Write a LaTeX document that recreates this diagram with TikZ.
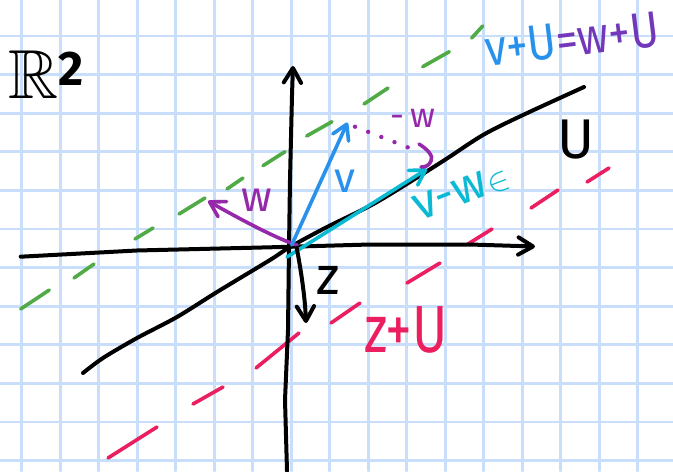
\documentclass[tikz,border=0pt]{standalone}
\usepackage{amssymb}
\usepackage{graphicx}
\usepackage{fontspec}
\setmainfont{Fira Sans}
\usetikzlibrary{arrows.meta}
\definecolor{gridblue}{RGB}{200,222,250}
\definecolor{vblue}{RGB}{40,145,235}
\definecolor{vwcyan}{RGB}{10,185,210}
\definecolor{wpurple}{RGB}{150,40,170}
\definecolor{eqpurple}{RGB}{115,55,185}
\definecolor{cosetgreen}{RGB}{80,170,70}
\definecolor{cosetred}{RGB}{235,30,95}
\begin{document}
\begin{tikzpicture}[x=0.75pt,y=-0.75pt,line cap=round,line join=round,
  gridline/.style={gridblue,line width=2pt},
  pen/.style={line width=3pt},
  cpen/.style={line width=2.7pt},
  barb/.style={-{Straight Barb[length=11pt,width=13pt,round]}},
  greendash/.style={cosetgreen,line width=2.7pt},
  reddash/.style={cosetred,line width=2.7pt},
  lab/.style={inner sep=0pt,font=\fontsize{#1}{#1}\selectfont}]
\useasboundingbox (0,0) rectangle (673,471);
\fill[white] (0,0) rectangle (673,471);
% graph paper
\foreach \i in {0,...,16} \draw[gridline] ({21.7+38.5*\i},0) -- ({21.7+38.5*\i},471);
\foreach \j in {0,...,11} \draw[gridline] (0,{36+38.6*\j}) -- (673,{36+38.6*\j});
% cosets (dashed)
\foreach \a/\b/\c/\d in {20.7/309/49.3/290,74/278/94/264,135/239/153/228,179/214/205/198,227/189/243/178,263/165.7/285/151.7,306.7/136/332/121.7,364/104/388/88,422.7/66.7/449.3/51.7,471.7/38/482.7/26}
  \draw[greendash] (\a,\b) -- (\c,\d);
\foreach \a/\b/\c/\d in {108/458/157/427,193/404/223/387,256/368/299/333,331/323/360/303,407/283/440/263,468/244/492/229,531/208/558/190,587/182/609/168}
  \draw[reddash] (\a,\b) -- (\c,\d);
% coordinates
\coordinate (xl) at (20.7,256.7);
\coordinate (xr) at (535,246.5);
\coordinate (yb) at (287,471);
\coordinate (yt) at (293,66);
\coordinate (O) at (291.7,245);
\coordinate (vtip) at (347.5,122.5);
\coordinate (wtail) at (297,245);
\coordinate (wtip) at (208,201);
\coordinate (vwtail) at (287,257);
\coordinate (vwtip) at (427,169);
\coordinate (ztail) at (296.7,248);
\coordinate (ztip) at (306,323);
\coordinate (d1) at (355,126.7);
\coordinate (d2) at (407.7,147.3);
% axes
\draw[pen,barb] (xl) -- (136.7,250.5) -- (270,247.3) -- (370,244.5) -- (470,244.5) -- (xr);
\draw[pen,barb] (yb) -- (285,400) -- (288,330) -- (289,247) -- (290,180) -- (292,95) -- (yt);
% subspace U
\draw[pen] plot[smooth,tension=0.5] coordinates {(83,373) (103,358) (137,338) (177,317) (217,292) (270,260) (290,247) (327,227) (377,202) (440,163) (483,135) (523,115) (584,87)};
% vectors
\draw[cpen,wpurple,barb] (wtail) .. controls (280,240) and (245,222) .. (wtip);
\draw[cpen,vblue,barb] (O) -- (vtip);
\draw[cpen,vwcyan,barb] (vwtail) -- (vwtip);
\draw[pen,barb] (ztail) .. controls (300,265) and (305,295) .. (ztip);
% -w dotted
\draw[wpurple,line width=3.3pt,dash pattern=on 0pt off 10.6pt] (d1) -- (d2);
\draw[cpen,wpurple] (419,144) .. controls (427,149) and (434,156) .. (431,161) .. controls (429,166) and (425,167) .. (421,167);
% labels
\node[lab=52,anchor=base west] (R2) at (8,98) {$\mathbb{R}^{\mathbf{2}}$};
\node[lab=32,text=vblue] (vlab) at (345,181) {v};
\node[lab=32,text=wpurple] (wlab) at (257,200) {w};
\node[lab=26,text=wpurple] (mwlab) at (413,118) {-\,w};
\node[lab=42] (Ulab) at (576,140) {U};
\node[lab=38,anchor=base west,rotate=7] (eqlab) at (487,67) {\scalebox{0.86}[1]{\textcolor{vblue}{v+U}\textcolor{eqpurple}{=w+U}}};
\node[lab=36,anchor=base west,rotate=21,text=vwcyan] (vwlab) at (419,222) {v-w$\in$};
\node[lab=40] (zlab) at (328,280) {z};
\node[lab=50,anchor=base west,text=cosetred] (zUlab) at (364,352) {\scalebox{0.8}[1]{z+U}};
\end{tikzpicture}
\end{document}
